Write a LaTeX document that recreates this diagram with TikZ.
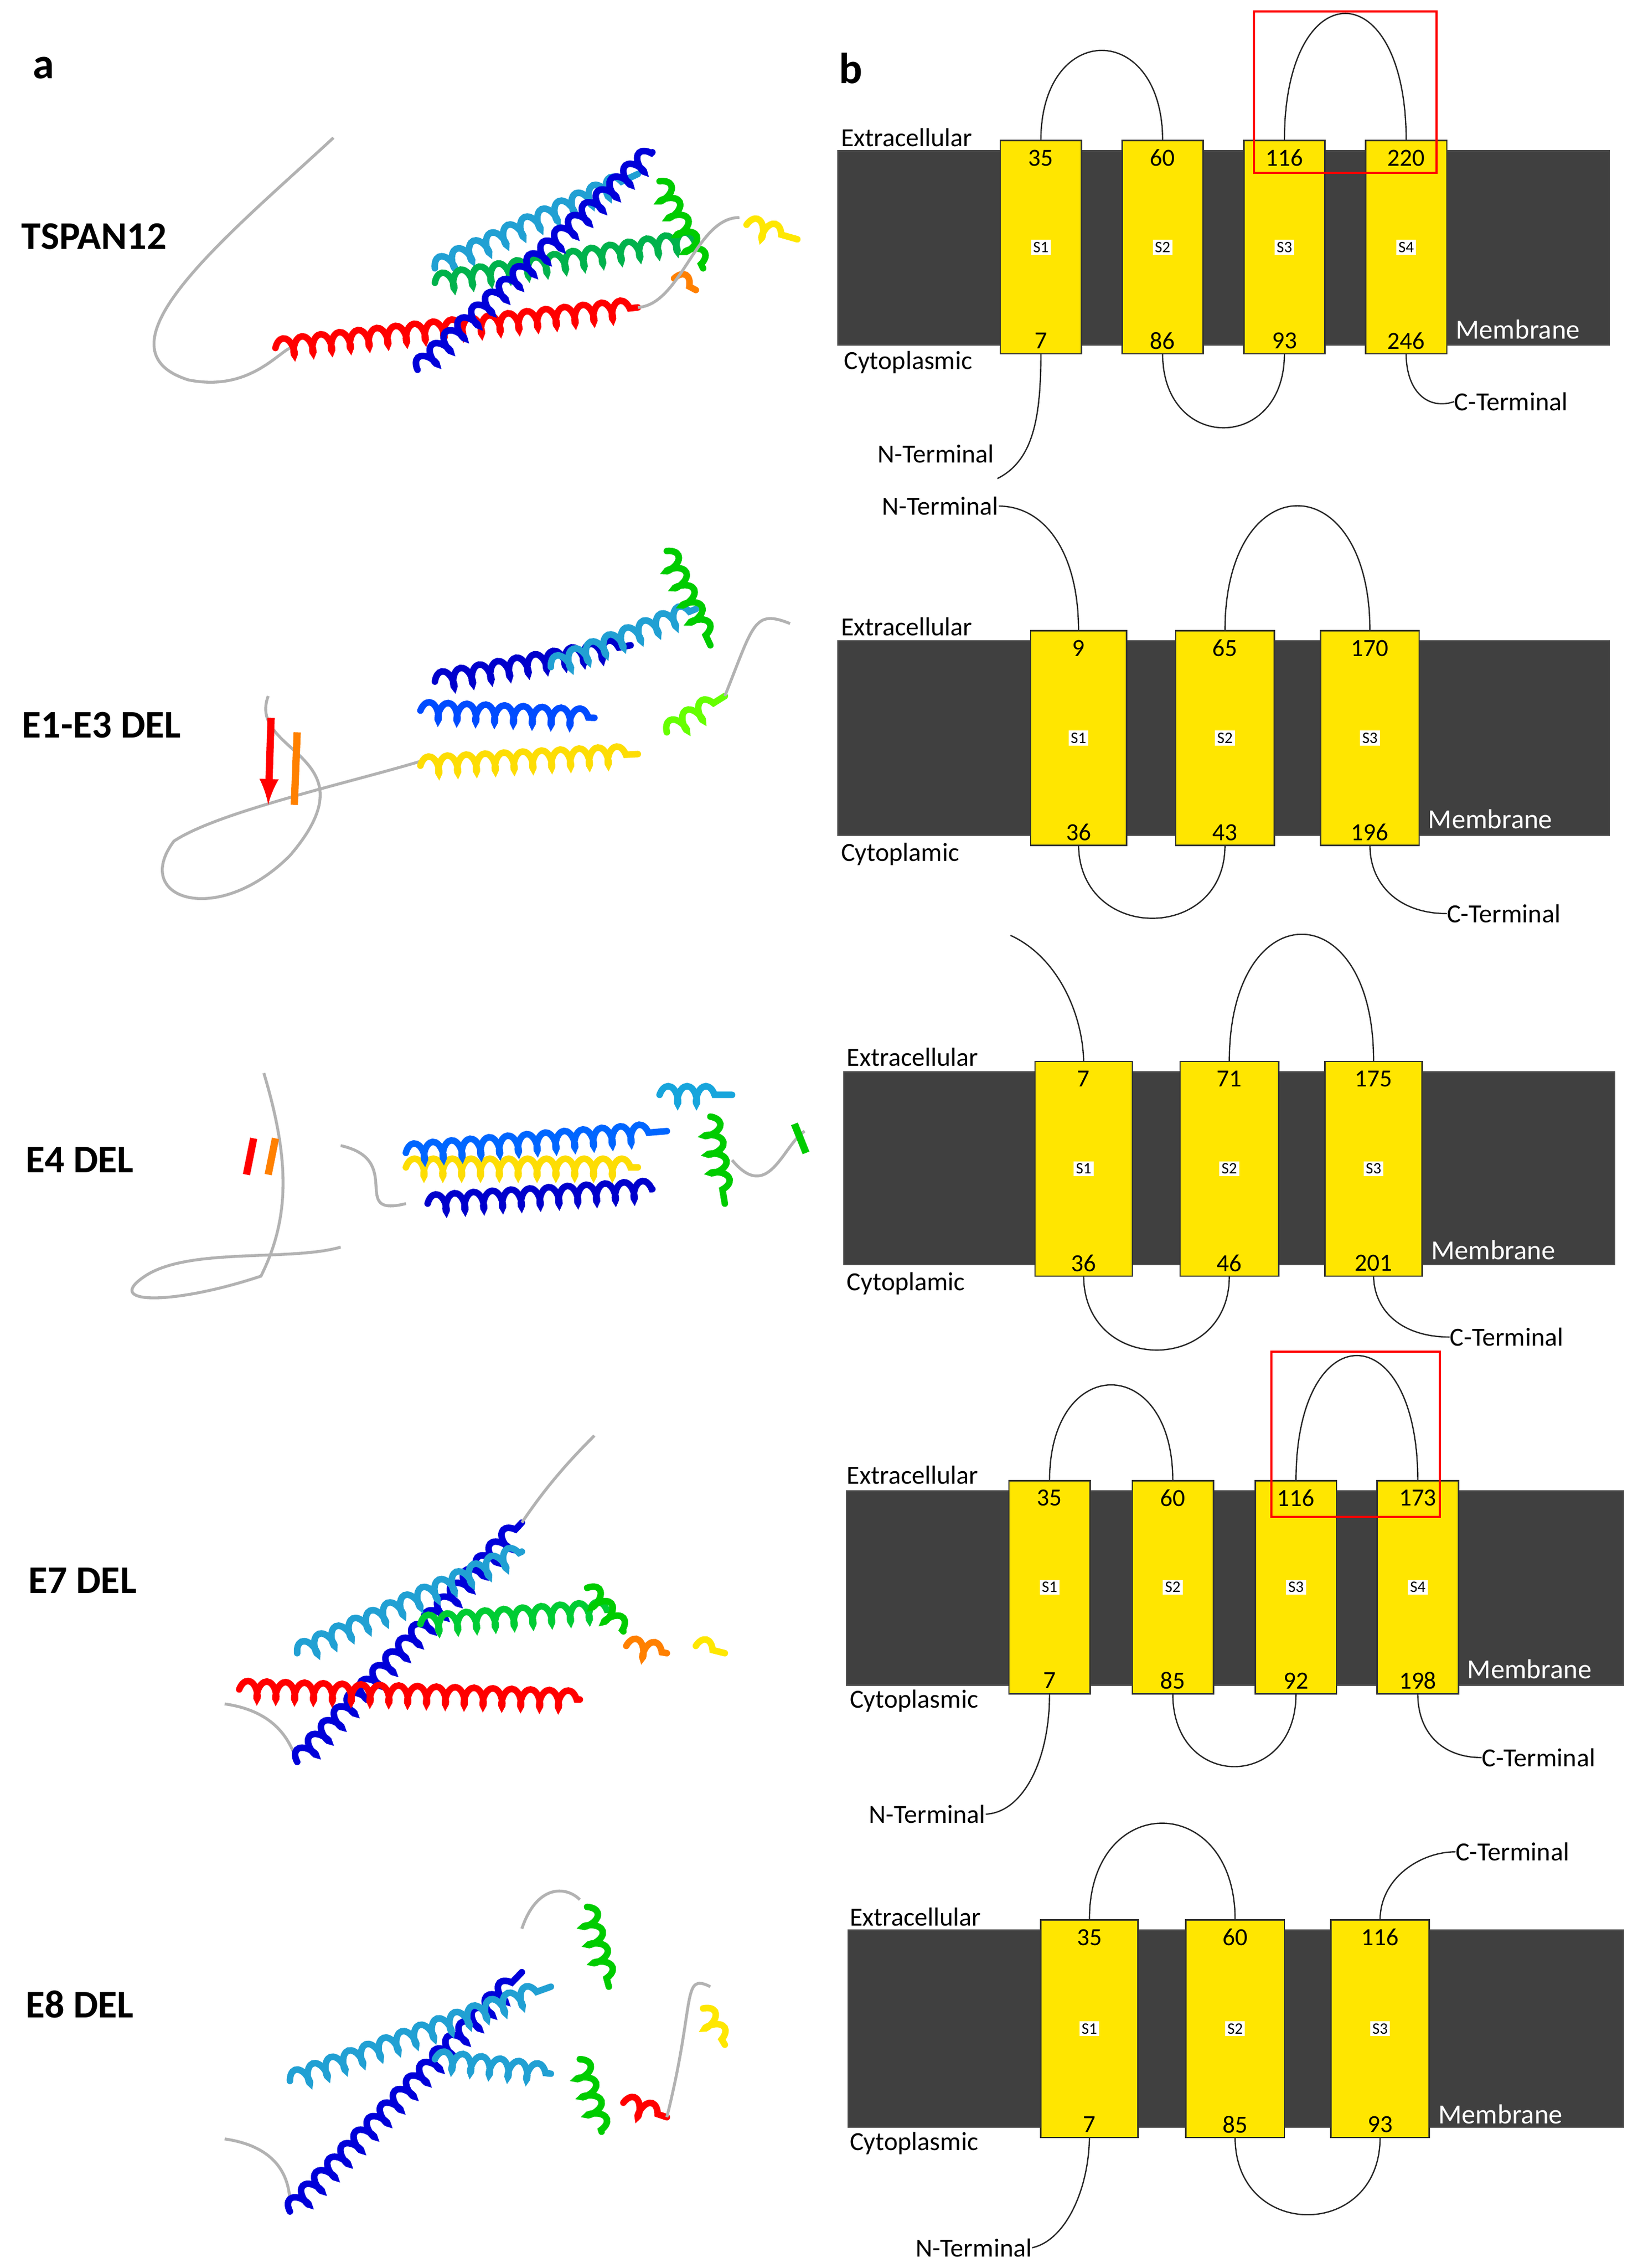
\documentclass[tikz,border=0pt]{standalone}
\usepackage{fontspec}
\setmainfont{Carlito}
\usetikzlibrary{decorations.pathmorphing}
\definecolor{mem}{HTML}{404040}
\definecolor{yel}{HTML}{FFE600}
\tikzset{
 mb/.style={fill=mem,draw=black!70,line width=0.8pt},
 seg/.style={fill=yel,draw=black!80,line width=1pt},
 lp/.style={draw=black!85,line width=0.9pt},
 num/.style={font=\fontsize{17}{17}\selectfont,inner sep=0pt},
 sl/.style={fill=white,inner sep=1.5pt,font=\fontsize{11}{11}\selectfont},
 side/.style={font=\fontsize{18}{18}\selectfont,inner sep=0pt},
 mlab/.style={font=\fontsize{19}{19}\selectfont,text=white,inner sep=0pt},
 plab/.style={font=\bfseries\fontsize{27}{27}\selectfont,inner sep=0pt},
 hx/.style={decorate,decoration={coil,aspect=0.45,segment length=13pt,amplitude=6pt},line width=4.5pt,line cap=round},
 cl/.style={draw=gray!60,line width=2pt},
}
% \tmseg{name}{xl}{xr}{yt}{yb}{top}{bot}{S}
\newcommand{\tmseg}[8]{%
 \draw[seg] (#2,#4) rectangle (#3,#5);
 \coordinate (#1t) at ({(#2+#3)/2},#4);
 \coordinate (#1b) at ({(#2+#3)/2},#5);
 \node[num] (#1n) at ({(#2+#3)/2},#4+12) {#6};
 \node[num] (#1m) at ({(#2+#3)/2},#5-9) {#7};
 \node[sl] (#1s) at ({(#2+#3)/2},{(#4+#5)/2}) {#8};}
\begin{document}
\begin{tikzpicture}[x=1pt,y=-1pt]
\useasboundingbox[fill=white] (0,0) rectangle (1133,1564);
\node[plab,font=\bfseries\fontsize{30}{30}\selectfont] (pa) at (30,47) {a};
\node[plab,font=\bfseries\fontsize{30}{30}\selectfont] (pb) at (587,47) {b};
\node[plab] (l1) at (65,163) {TSPAN12};
\node[plab] (l2) at (70,500) {E1-E3 DEL};
\node[plab] (l3) at (55,800) {E4 DEL};
\node[plab] (l4) at (57,1090) {E7 DEL};
\node[plab] (l5) at (55,1382) {E8 DEL};

% ---------- row 1
\draw[mb] (578,104) rectangle (1110,238);
\tmseg{aa}{690}{746}{97}{244}{35}{7}{S1}
\tmseg{ab}{774}{830}{97}{244}{60}{86}{S2}
\tmseg{ac}{858}{914}{97}{244}{116}{93}{S3}
\tmseg{ad}{942}{998}{97}{244}{220}{246}{S4}
\node[side,anchor=west] (ae) at (580,95) {Extracellular};
\node[side,anchor=west] (ac2) at (582,250) {Cytoplasmic};
\node[mlab,anchor=west] (am) at (1004,227) {Membrane};
\node[side,anchor=east] (an) at (686,313) {N-Terminal};
\node[side,anchor=west] (acn) at (1003,277) {C-Terminal};
\draw[lp] (aat) .. controls (718,14) and (802,14) .. (abt);
\draw[lp] (act) .. controls (886,-20) and (970,-20) .. (adt);
\draw[lp] (abb) .. controls (802,312) and (886,312) .. (acb);
\draw[lp] (aab) .. controls (718,290) and (712,318) .. (688,330);
\draw[lp] (adb) .. controls (970,270) and (985,283) .. (acn.west);
\draw[red,line width=1.5pt] (865,8) rectangle (991,119);

% ---------- row 2
\draw[mb] (578,442) rectangle (1110,576);
\tmseg{ba}{711}{777}{435}{583}{9}{36}{S1}
\tmseg{bb}{811}{879}{435}{583}{65}{43}{S2}
\tmseg{bc}{911}{979}{435}{583}{170}{196}{S3}
\node[side,anchor=west] (be) at (580,432) {Extracellular};
\node[side,anchor=west] (bc2) at (580,589) {Cytoplamic};
\node[mlab,anchor=west] (bm) at (985,565) {Membrane};
\node[side,anchor=east] (bn) at (689,349) {N-Terminal};
\node[side,anchor=west] (bcn) at (998,630) {C-Terminal};
\draw[lp] (bn.east) .. controls (720,349) and (744,380) .. (bat);
\draw[lp] (bbt) .. controls (845,320) and (945,320) .. (bct);
\draw[lp] (bab) .. controls (745,650) and (845,650) .. (bbb);
\draw[lp] (bcb) .. controls (945,610) and (965,630) .. (bcn.west);

% ---------- row 3
\draw[mb] (582,739) rectangle (1114,872);
\tmseg{ca}{714}{781}{732}{880}{7}{36}{S1}
\tmseg{cb}{814}{882}{732}{880}{71}{46}{S2}
\tmseg{cc}{914}{981}{732}{880}{175}{201}{S3}
\node[side,anchor=west] (ce) at (584,729) {Extracellular};
\node[side,anchor=west] (cc2) at (584,885) {Cytoplamic};
\node[mlab,anchor=west] (cm) at (987,862) {Membrane};
\node[side,anchor=west] (ccn) at (1000,922) {C-Terminal};
\coordinate (cn) at (697,645);
\draw[lp] (cn) .. controls (730,660) and (747,700) .. (cat);
\draw[lp] (cbt) .. controls (848,615) and (948,615) .. (cct);
\draw[lp] (cab) .. controls (748,948) and (848,948) .. (cbb);
\draw[lp] (ccb) .. controls (948,905) and (968,922) .. (ccn.west);

% ---------- row 4
\draw[mb] (584,1028) rectangle (1120,1162);
\tmseg{da}{696}{752}{1021}{1168}{35}{7}{S1}
\tmseg{db}{781}{837}{1021}{1168}{60}{85}{S2}
\tmseg{dc}{866}{922}{1021}{1168}{116}{92}{S3}
\tmseg{dd}{950}{1006}{1021}{1168}{173}{198}{S4}
\node[side,anchor=west] (de) at (584,1017) {Extracellular};
\node[side,anchor=west] (dc2) at (586,1173) {Cytoplasmic};
\node[mlab,anchor=west] (dm) at (1012,1151) {Membrane};
\node[side,anchor=east] (dn) at (680,1251) {N-Terminal};
\node[side,anchor=west] (dcn) at (1022,1212) {C-Terminal};
\draw[lp] (dat) .. controls (724,933) and (809,933) .. (dbt);
\draw[lp] (dct) .. controls (894,906) and (978,906) .. (ddt);
\draw[lp] (dbb) .. controls (809,1235) and (894,1235) .. (dcb);
\draw[lp] (dab) .. controls (724,1215) and (705,1250) .. (dn.east);
\draw[lp] (ddb) .. controls (978,1195) and (995,1212) .. (dcn.west);
\draw[red,line width=1.5pt] (877,932) rectangle (993,1046);

% ---------- row 5
\draw[mb] (585,1331) rectangle (1120,1467);
\tmseg{ea}{718}{785}{1324}{1474}{35}{7}{S1}
\tmseg{eb}{818}{886}{1324}{1474}{60}{85}{S2}
\tmseg{ec}{918}{986}{1324}{1474}{116}{93}{S3}
\node[side,anchor=west] (ee) at (586,1322) {Extracellular};
\node[side,anchor=west] (ec2) at (586,1478) {Cytoplasmic};
\node[mlab,anchor=west] (em) at (992,1458) {Membrane};
\node[side,anchor=east] (en) at (712,1550) {N-Terminal};
\node[side,anchor=west] (ecn) at (1004,1277) {C-Terminal};
\draw[lp] (eat) .. controls (751,1235) and (852,1235) .. (ebt);
\draw[lp] (ebb) .. controls (852,1545) and (952,1545) .. (ecb);
\draw[lp] (eab) .. controls (751,1510) and (735,1545) .. (en.east);
\draw[lp] (ect) .. controls (952,1295) and (980,1277) .. (ecn.west);

% ---------- proteins (schematic)
% TSPAN12
\draw[cl] (230,95) .. controls (160,160) and (60,240) .. (130,262) .. controls (170,270) and (190,245) .. (200,240);
\draw[hx,red] (190,240) -- (440,212);
\draw[hx,cyan!70!teal] (300,185) -- (440,120);
\draw[hx,teal!60!green] (300,195) -- (480,165);
\draw[hx,blue!85!black] (288,255) -- (450,105);
\draw[hx,green!80!black] (455,125) -- (485,185);
\draw[hx,yellow!90!orange] (515,155) -- (550,165);
\draw[hx,orange] (465,192) -- (480,200);
\draw[cl] (440,212) .. controls (470,210) and (480,150) .. (510,150);
% E1-E3
\draw[cl] (185,480) .. controls (170,520) and (260,520) .. (200,590) .. controls (150,640) and (90,620) .. (120,580) .. controls (150,560) and (240,540) .. (290,525);
\draw[red,line width=5pt,-latex] (187,495) -- (185,555);
\draw[orange,line width=5pt] (205,505) -- (203,555);
\draw[hx,yellow!80!orange] (290,528) -- (440,520);
\draw[hx,blue!70!cyan] (290,490) -- (410,495);
\draw[hx,blue!80!black] (300,470) -- (435,445);
\draw[hx,cyan!70!teal] (380,460) -- (480,420);
\draw[hx,green!80!black] (460,380) -- (490,445);
\draw[hx,green!60!yellow] (460,505) -- (500,480);
\draw[cl] (500,480) .. controls (520,430) and (520,420) .. (545,430);
% E4
\draw[cl] (182,740) .. controls (200,800) and (200,840) .. (180,880) .. controls (120,900) and (70,900) .. (100,880) .. controls (130,860) and (200,870) .. (235,860);
\draw[red,line width=5pt] (175,785) -- (170,810);
\draw[orange,line width=5pt] (190,785) -- (185,810);
\draw[cl] (235,790) .. controls (280,800) and (240,840) .. (280,830);
\draw[hx,blue!80!black] (295,830) -- (450,820);
\draw[hx,yellow!80!orange] (280,805) -- (440,805);
\draw[hx,blue!60!cyan] (280,795) -- (460,780);
\draw[hx,cyan!80!teal] (455,755) -- (505,755);
\draw[hx,green!80!black] (490,770) -- (500,830);
\draw[cl] (505,800) .. controls (530,830) and (540,790) .. (555,780);
\draw[green!80!black,line width=5pt] (548,775) -- (556,795);
% E7
\draw[cl] (155,1175) .. controls (190,1180) and (200,1200) .. (205,1215);
\draw[hx,blue!85!black] (205,1215) -- (360,1050);
\draw[hx,cyan!70!teal] (205,1140) -- (360,1070);
\draw[hx,green!60!teal] (290,1120) -- (420,1110);
\draw[hx,red] (165,1165) -- (400,1172);
\draw[hx,green!80!black] (405,1095) -- (430,1125);
\draw[hx,orange] (432,1135) -- (460,1140);
\draw[hx,yellow!90!orange] (480,1135) -- (500,1140);
\draw[cl] (360,1050) .. controls (380,1020) and (400,1000) .. (410,990);
% E8
\draw[cl] (155,1475) .. controls (190,1480) and (200,1500) .. (200,1520);
\draw[hx,blue!85!black] (200,1525) -- (360,1360);
\draw[hx,cyan!70!teal] (200,1435) -- (380,1370);
\draw[hx,cyan!70!teal] (300,1420) -- (380,1430);
\draw[hx,green!80!black] (405,1315) -- (420,1370);
\draw[hx,green!80!black] (400,1420) -- (415,1470);
\draw[hx,red] (430,1450) -- (460,1460);
\draw[hx,yellow!90!orange] (485,1385) -- (500,1410);
\draw[cl] (360,1330) .. controls (370,1300) and (390,1300) .. (400,1310);
\draw[cl] (460,1460) .. controls (480,1380) and (470,1360) .. (490,1370);
\end{tikzpicture}
\end{document}
